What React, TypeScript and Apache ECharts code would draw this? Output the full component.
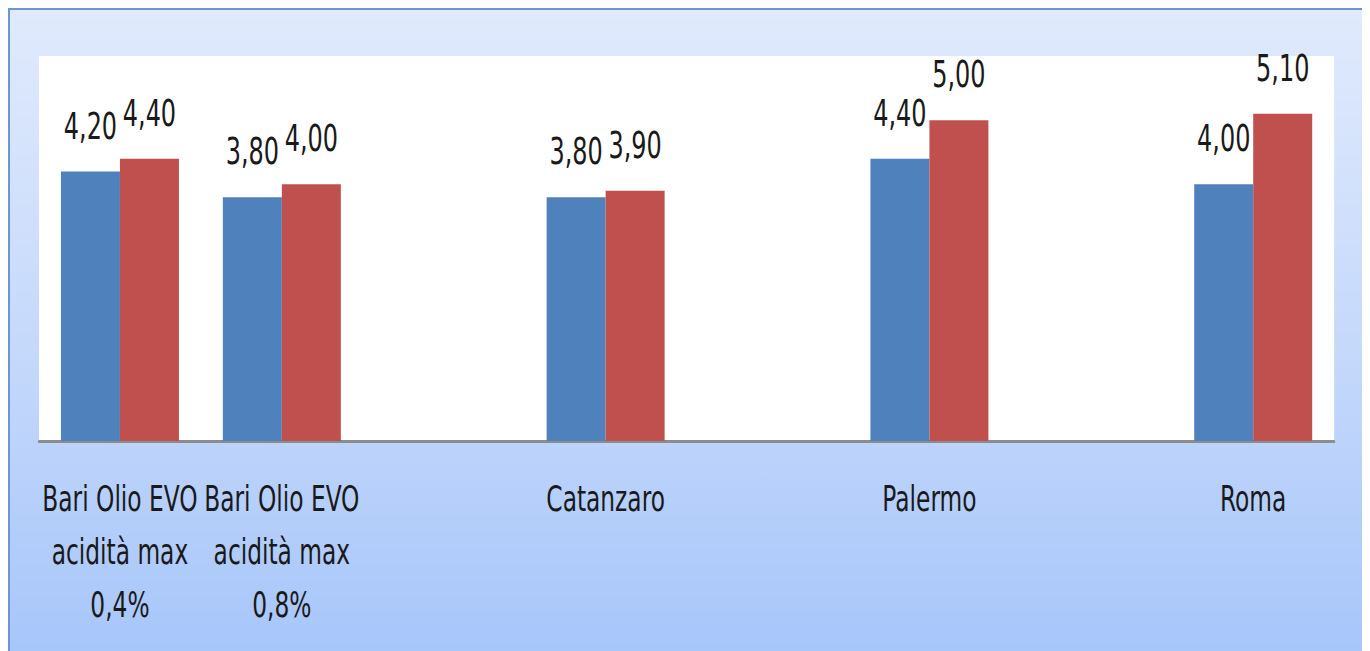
import React, { useEffect, useRef } from "react";
import * as echarts from "echarts";

const categories = [
  "Bari Olio EVO\nacidità max\n0,4%",
  "Bari Olio EVO\nacidità max\n0,8%",
  "",
  "Catanzaro",
  "",
  "Palermo",
  "",
  "Roma",
];
const seriesBlue = [4.2, 3.8, null, 3.8, null, 4.4, null, 4.0];
const seriesRed = [4.4, 4.0, null, 3.9, null, 5.0, null, 5.1];
const yMin = 0;
const yMax = 6;

const FONT = "'DejaVu Sans Condensed', 'Liberation Sans Narrow', sans-serif";
const SX = 0.72; // horizontal condensing of the whole drawing, as in the reference
const OUTER_W = 1352;
const OUTER_H = 641;

export default function App() {
  const ref = useRef<HTMLDivElement>(null);
  useEffect(() => {
    document.documentElement.style.overflow = "hidden";
    const chart = echarts.init(ref.current!, undefined, { renderer: "svg" });
    const fmt = (p: any) => (p.value == null ? "" : Number(p.value).toFixed(2).replace(".", ","));
    const label = {
      show: true,
      position: "top",
      distance: 27,
      color: "#1a1a1a",
      fontFamily: FONT,
      fontSize: 37,
      formatter: fmt,
    };
    chart.setOption({
      animation: false,
      backgroundColor: "transparent",
      grid: {
        left: 29 / SX,
        right: 28 / SX,
        top: 46,
        bottom: 210,
        show: true,
        backgroundColor: "#ffffff",
        borderWidth: 0,
      },
      xAxis: {
        type: "category",
        data: categories,
        axisLine: { show: true, lineStyle: { color: "#8c8c8c", width: 3 } },
        axisTick: { show: false },
        axisLabel: {
          interval: 0,
          margin: 31,
          color: "#1a1a1a",
          fontFamily: FONT,
          fontSize: 36,
          lineHeight: 53,
        },
        splitLine: { show: false },
      },
      yAxis: {
        type: "value",
        min: yMin,
        max: yMax,
        show: false,
        splitLine: { show: false },
      },
      series: [
        {
          name: "Serie 1",
          type: "bar",
          data: seriesBlue,
          barWidth: 59 / SX,
          barGap: "0%",
          itemStyle: { color: "#4f81bd" },
          label,
        },
        {
          name: "Serie 2",
          type: "bar",
          data: seriesRed,
          barWidth: 59 / SX,
          barGap: "0%",
          itemStyle: { color: "#c0504d" },
          label,
        },
      ],
    });
    return () => chart.dispose();
  }, []);
  return (
    <div
      style={{
        position: "relative",
        width: OUTER_W,
        height: OUTER_H,
        overflow: "hidden",
        border: "2px solid #6c95d2",
        boxShadow: "-2px 0 3px rgba(0,0,0,0.15)",
        background: "linear-gradient(to bottom, #e0eafc 0%, #c4d8fb 55%, #a7c6fa 100%)",
      }}
    >
      <div
        ref={ref}
        style={{
          position: "absolute",
          left: 0,
          top: 0,
          width: OUTER_W / SX,
          height: OUTER_H,
          transform: `scaleX(${SX})`,
          transformOrigin: "0 0",
        }}
      />
    </div>
  );
}
